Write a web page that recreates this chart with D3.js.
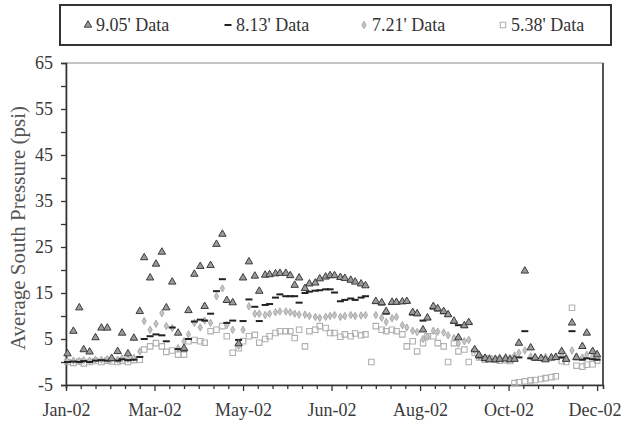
<!DOCTYPE html>
<html>
<head>
<meta charset="utf-8">
<script src="https://cdn.jsdelivr.net/npm/d3@7"></script>
<style>
  body { margin: 0; background: #fff; }
  svg { display: block; }
</style>
</head>
<body>
<svg id="chart" width="621" height="435"></svg>
<script>
// Sample days, counted from 1 Jan 2002
const sampleDays = [
  1, 5, 9, 12, 16, 20, 24, 28, 31, 35,
  38, 42, 46, 50, 53, 57, 61, 65, 68, 72,
  76, 80, 83, 87, 91, 94, 98, 102, 106, 109,
  113, 117, 120, 124, 128, 131, 135, 138, 142, 145,
  149, 152, 155, 158, 162, 165, 169, 172, 176, 179,
  182, 186, 189, 193, 196, 200, 203, 207, 210, 214,
  217, 221, 224, 228, 231, 235, 238, 242, 245, 249,
  252, 256, 259, 263, 266, 270, 273, 277, 280, 284,
  287, 291, 294, 298, 301, 304, 307, 311, 315, 318,
  322, 325, 329, 332, 336, 339, 343, 346, 350, 353,
  357, 360
];

// Average south pressure (psi) per gauge depth
const pressure905 = [
  1.8, 6.7, 11.8, 2.7, 2.2, 5.3, 7.4, 7.4, 0.8, 2.3,
  6.3, 1.8, 5.2, 11.0, 22.7, 18.3, 21.3, 23.9, 11.8, 17.4,
  6.3, 3.0, 11.2, 19.1, 20.8, 12.1, 21.0, 25.6, 27.8, 13.4,
  12.9, 4.0, 18.3, 21.8, 18.7, 15.4, 18.9, 19.0, 19.2, 19.3,
  19.3, 18.8, 16.7, 18.3, 16.0, 17.0, 17.2, 18.1, 18.5, 18.8,
  18.8, 18.4, 18.2, 17.8, 17.4, 17.0, 16.6, null, 13.2, 12.9,
  11.0, 13.0, 13.0, 13.1, 13.2, 10.8, 10.5, 7.0, 9.6, 12.1,
  11.6, 11.0, 10.3, 8.9, 5.3, 7.9, 8.6, 2.7, 1.5, 0.8,
  0.5, 0.5, 0.6, 0.7, 0.5, 0.6, 4.1, 19.8, 3.1, 0.9,
  0.8, 0.5, 0.9, 1.0, 2.3, 0.6, 8.5, 1.0, 3.4, 6.3,
  2.3, 1.6
];
const pressure813 = [
  0.0, 0.1, 0.0, 0.2, 0.0, 0.3, 0.4, 0.3, 0.5, 0.3,
  0.6, 0.4, 0.5, 1.1, 5.0, 5.6, 6.0, 5.8, 4.5, 7.5,
  2.8, 2.5, 5.0, 8.8, 9.2, 9.0, 10.5, 15.4, 18.0, 8.5,
  9.0, 4.8, 8.9, 13.6, 12.0, 8.9, 12.4, 12.6, 14.0, 14.7,
  14.3, 14.3, 14.3, 12.9, 15.0, 15.3, 15.5, 15.6, 15.8, 15.8,
  15.1, 13.2, 13.5, 13.8, 13.5, 14.0, 14.3, null, 12.8, 12.5,
  10.5, 12.6, 12.8, 12.9, 13.0, 10.3, 10.2, 9.0, 9.3, 11.6,
  11.2, 10.6, 10.0, 8.5, 8.0, 7.6, 8.3, 2.5, 1.0, 0.4,
  0.3, 0.3, 0.4, 0.5, 0.3, 0.4, 1.0, 6.7, 0.8, 0.5,
  0.5, 0.4, 0.6, 0.7, 1.0, 0.3, 6.7, 0.6, 0.5, 0.8,
  0.6, 0.5
];
const pressure721 = [
  0.2, 0.3, 0.2, 0.4, 0.3, 0.5, 0.5, 0.6, 0.6, 0.5,
  0.8, 0.6, 0.9, 2.3, 8.9, 7.0, 8.3, 10.6, 7.8, 7.4,
  3.0, 4.5, 6.0, 8.5, 7.5, 9.0, 8.5, 14.3, 16.0, 8.0,
  7.0, 3.5, 7.0, 12.1, 10.5, 10.5, 10.2, 10.5, 10.8, 11.0,
  11.0, 10.8, 10.5, 10.3, 10.3, 10.0, 9.8, 9.6, 9.8, 10.0,
  10.2, 9.8, 10.0, 10.2, 10.0, 10.1, 10.2, null, 10.2, 9.6,
  8.7, 9.5, 9.8, 8.0, 7.5, 6.8, 6.5, 5.0, 5.5, 6.8,
  6.6, 6.4, 5.8, 5.2, 4.0, 4.5, 4.8, 2.5, 1.2, 1.0,
  0.9, 0.8, 1.0, 1.1, 0.9, 1.4, 2.0, 2.5, 1.2, 1.0,
  0.9, 1.1, 1.0, 1.2, 1.5, 1.0, 2.5, 1.2, 1.0, 1.6,
  1.2, 1.0
];
const pressure538 = [
  0.0, -0.2, 0.1, -0.3, 0.0, 0.2, 0.0, 0.3, 0.1, 0.0,
  0.3, 0.0, 0.4, 0.5, 2.7, 3.4, 4.1, 3.4, 2.2, 2.5,
  1.6, 1.6, 4.5, 4.8, 4.5, 4.2, 6.7, 7.0, 7.8, 5.6,
  2.0, 3.0, 4.5, 5.6, 5.9, 4.2, 5.0, 5.6, 6.3, 6.7,
  6.7, 6.7, 5.2, 7.0, 3.4, 6.7, 7.0, 7.8, 7.4, 6.3,
  6.3, 5.5, 6.0, 5.6, 6.2, 5.8, 6.0, 0.0, 7.8, 7.0,
  6.7, 7.0, 6.7, 6.0, 3.4, 4.5, 2.3, 4.1, 5.6, 5.6,
  4.1, 3.4, 0.0, 4.1, 2.3, 2.7, 0.0, 2.0, 1.0, 0.5,
  0.8, 0.5, 0.3, 0.4, 0.2, -4.6, -4.4, -4.2, -4.0, -3.9,
  -3.7, -3.5, -3.3, -3.1, 0.2, 0.0, 11.8, -0.8, -1.0, -0.6,
  -0.5, 0.3
];

const seriesNames = ["9.05' Data", "8.13' Data", "7.21' Data", "5.38' Data"];
const yTickValues = d3.range(-5, 66, 5);
const yLabelValues = [-5, 5, 15, 25, 35, 45, 55, 65];
const xTickDays = d3.range(0, 361, 10);
const xLabelDays = [0, 60, 120, 180, 240, 300, 360];

const FONT = "'Liberation Serif', 'Times New Roman', Times, 'Nimbus Roman', 'DejaVu Serif', serif";

const start = new Date(2002, 0, 1);
const toDate = d => d3.timeDay.offset(start, d);

const svg = d3.select("#chart");
const plot = { left: 66, right: 603, top: 63, bottom: 385 };

const x = d3.scaleTime()
  .domain([start, toDate(364)])
  .range([plot.left, plot.right]);
const y = d3.scaleLinear()
  .domain([-5, 65])
  .range([plot.bottom, plot.top]);

// Plot area frame
svg.append("rect")
  .attr("x", plot.left).attr("y", plot.top)
  .attr("width", plot.right - plot.left)
  .attr("height", plot.bottom - plot.top)
  .attr("fill", "none")
  .attr("stroke", "#8a8a8a")
  .attr("stroke-width", 1);
svg.append("line")
  .attr("x1", plot.right).attr("x2", plot.right)
  .attr("y1", plot.top).attr("y2", plot.bottom)
  .attr("stroke", "#555").attr("stroke-width", 2);

// Y axis
const fmtDate = d3.timeFormat("%b-%y");
const yAxis = d3.axisLeft(y)
  .tickValues(yTickValues)
  .tickSize(5)
  .tickPadding(8)
  .tickFormat(v => yLabelValues.includes(v) ? String(v) : "");
const gy = svg.append("g")
  .attr("transform", `translate(${plot.left},0)`)
  .call(yAxis)
  .attr("font-family", FONT)
  .attr("font-size", 18);
gy.select(".domain").attr("stroke", "#333").attr("stroke-width", 1.6);
gy.selectAll(".tick line").attr("stroke", "#333").attr("stroke-width", 1.3);
gy.selectAll(".tick text").attr("fill", "#3a3a3a");

// X axis
const labelDates = xLabelDays.map(d => +toDate(d));
const xAxis = d3.axisBottom(x)
  .tickValues(xTickDays.map(toDate))
  .tickSize(4)
  .tickPadding(14)
  .tickFormat(d => labelDates.includes(+d) ? fmtDate(d) : "");
const gx = svg.append("g")
  .attr("transform", `translate(0,${plot.bottom})`)
  .call(xAxis)
  .attr("font-family", FONT)
  .attr("font-size", 18);
gx.select(".domain").attr("stroke", "#333").attr("stroke-width", 1.6);
gx.selectAll(".tick line")
  .attr("stroke", "#333").attr("stroke-width", 1.3)
  .attr("y2", d => labelDates.includes(+d) ? 6 : 4);
gx.selectAll(".tick text").attr("fill", "#3a3a3a");
// keep the last date label inside the canvas
gx.selectAll(".tick text")
  .filter(d => +d === labelDates[labelDates.length - 1])
  .attr("text-anchor", "end")
  .attr("x", 24);

// Y axis title
svg.append("text")
  .attr("transform", `translate(18,${(plot.top + plot.bottom) / 2 + 4}) rotate(-90)`)
  .attr("text-anchor", "middle")
  .attr("dy", "0.35em")
  .attr("font-family", FONT)
  .attr("font-size", 21)
  .attr("fill", "#555")
  .text("Average South Pressure (psi)");

// Marker painters
const triPath = d3.symbol().type(d3.symbolTriangle).size(24)();
const diaPath = d3.symbol().type(d3.symbolDiamond).size(16)();
const sqPath = d3.symbol().type(d3.symbolSquare).size(30)();

const styles = [
  { draw: g => g.append("path").attr("d", triPath).attr("fill", "#9a9a9a").attr("stroke", "#3c3c3c").attr("stroke-width", 1) },
  { draw: g => g.append("rect").attr("x", -3.5).attr("y", -1).attr("width", 7).attr("height", 2).attr("fill", "#222") },
  { draw: g => g.append("path").attr("d", diaPath).attr("fill", "#c4c4c4").attr("stroke", "#a0a0a0").attr("stroke-width", 0.8) },
  { draw: g => g.append("path").attr("d", sqPath).attr("fill", "none").attr("stroke", "#b0b0b0").attr("stroke-width", 1.1) }
];

const seriesValues = [pressure905, pressure813, pressure721, pressure538];
const drawOrder = [3, 2, 1, 0];

drawOrder.forEach(si => {
  const pts = sampleDays
    .map((d, i) => ({ day: d, v: seriesValues[si][i] }))
    .filter(p => p.v !== null);
  const g = svg.append("g").attr("class", "series-" + si);
  g.selectAll("g.pt")
    .data(pts)
    .join("g")
    .attr("class", "pt")
    .attr("transform", p => `translate(${x(toDate(p.day))},${y(p.v)})`)
    .each(function () { styles[si].draw(d3.select(this)); });
});

// Legend
const legend = svg.append("g");
legend.append("rect")
  .attr("x", 60).attr("y", 5)
  .attr("width", 551).attr("height", 40)
  .attr("fill", "#fff")
  .attr("stroke", "#333")
  .attr("stroke-width", 2);
const legendX = [88, 228, 364, 503];
seriesNames.forEach((name, i) => {
  const item = legend.append("g").attr("transform", `translate(${legendX[i]},25)`);
  styles[i].draw(item);
  item.append("text")
    .attr("x", 8)
    .attr("y", 6)
    .attr("font-family", FONT)
    .attr("font-size", 18)
    .attr("fill", "#333")
    .text(name);
});
</script>
</body>
</html>
